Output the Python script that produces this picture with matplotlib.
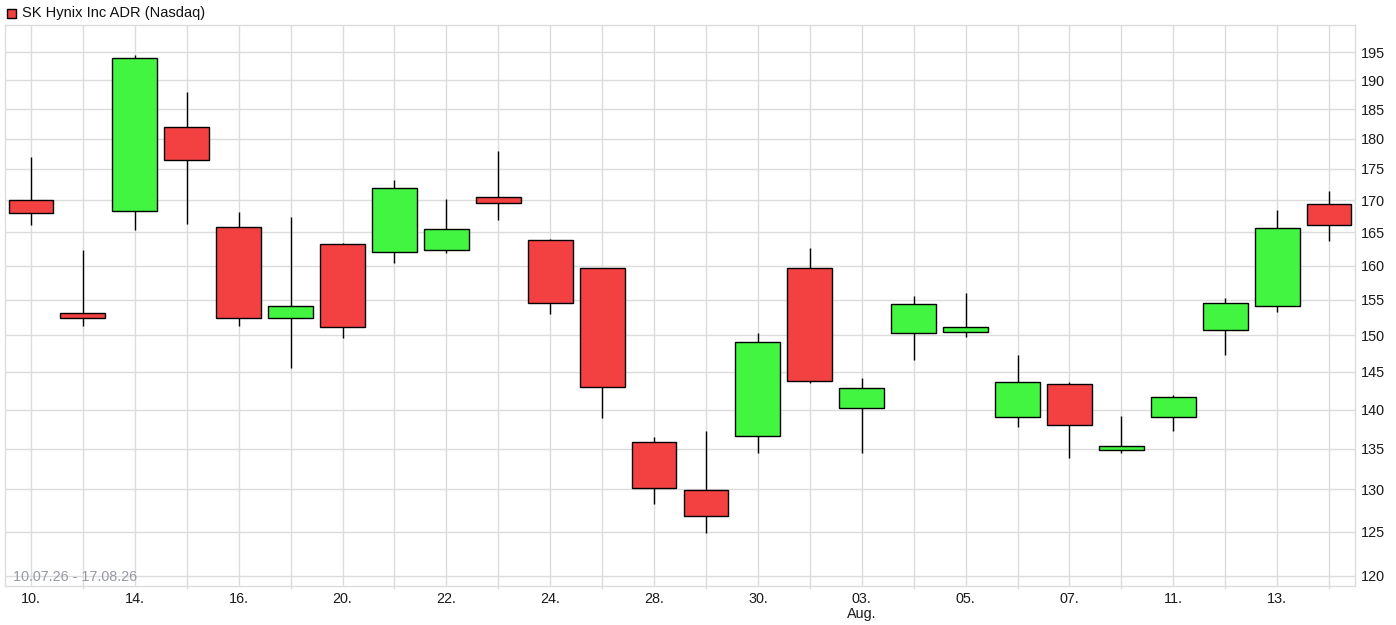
import matplotlib
matplotlib.use("Agg")
import matplotlib.pyplot as plt
from matplotlib.ticker import FixedLocator, NullLocator, FixedFormatter
from matplotlib.patches import Rectangle

plt.rcParams['font.family'] = ['Liberation Sans', 'DejaVu Sans']

days = ["10.", "13.", "14.", "15.", "16.", "17.", "20.", "21.", "22.", "23.",
        "24.", "27.", "28.", "29.", "30.", "31.", "03.\nAug.", "04.", "05.", "06.",
        "07.", "10.", "11.", "12.", "13.", "14."]
opens  = [170.0, 153.1, 168.3, 181.9, 165.9, 152.4, 163.3, 162.1, 162.4, 170.5,
          163.9, 159.6, 135.9, 129.9, 136.6, 159.7, 140.2, 150.3, 150.5, 139.0,
          143.3, 134.9, 139.0, 150.7, 154.1, 169.4]
highs  = [177.0, 162.3, 194.5, 188.0, 168.2, 167.4, 163.4, 173.2, 170.2, 177.9,
          164.0, 159.7, 136.5, 137.2, 150.3, 162.6, 144.2, 155.6, 156.0, 147.3,
          143.6, 139.2, 141.9, 155.3, 168.5, 171.5]
lows   = [166.1, 151.3, 165.4, 166.3, 151.3, 145.5, 149.6, 160.4, 161.9, 166.9,
          153.0, 138.9, 128.3, 124.9, 134.5, 143.5, 134.5, 146.6, 149.8, 137.7,
          133.8, 134.5, 137.3, 147.3, 153.3, 163.7]
closes = [168.0, 152.4, 193.9, 176.4, 152.4, 154.1, 151.2, 171.9, 165.5, 169.5,
          154.6, 143.0, 130.2, 126.8, 149.0, 143.7, 142.8, 154.4, 151.1, 143.6,
          138.0, 135.3, 141.7, 154.5, 165.6, 166.2]
yticks = list(range(120, 200, 5))
title = "SK Hynix Inc ADR (Nasdaq)"
range_text = "10.07.26 - 17.08.26"

RED = "#f34141"
GREEN = "#41f541"
GRID = "#dcdcdc"

W, H = 1396, 625
fig = plt.figure(figsize=(W / 100, H / 100), dpi=100)
ax = fig.add_axes([5 / W, 1 - 586 / H, (1355 - 5) / W, (586 - 25) / H])

n = len(opens)
xs = list(range(n))
ax.vlines(xs, lows, highs, color="black", linewidth=1.0, zorder=2)
bottoms = [min(o, c) for o, c in zip(opens, closes)]
heights = [abs(c - o) for o, c in zip(opens, closes)]
colors = [GREEN if c >= o else RED for o, c in zip(opens, closes)]
ax.bar(xs, heights, bottom=bottoms, width=0.865, color=colors,
       edgecolor="black", linewidth=1.0, zorder=3)

ax.set_yscale("log")
ax.set_ylim(118.86, 200.0)
ax.set_xlim(-0.5, n - 0.5)

ax.yaxis.set_major_locator(FixedLocator(yticks))
ax.yaxis.set_major_formatter(FixedFormatter([str(v) for v in yticks]))
ax.yaxis.set_minor_locator(NullLocator())
ax.yaxis.tick_right()
ax.tick_params(axis="y", which="both", length=0, pad=4, labelsize=10.4,
               labelcolor="#1a1a1a")

major_x = xs[::2]
minor_x = xs[1::2]
ax.xaxis.set_major_locator(FixedLocator(major_x))
ax.xaxis.set_major_formatter(FixedFormatter([days[i] for i in major_x]))
ax.xaxis.set_minor_locator(FixedLocator(minor_x))
ax.tick_params(axis="x", which="major", length=0, pad=4, labelsize=10.4,
               labelcolor="#1a1a1a")
ax.tick_params(axis="x", which="minor", length=2, color=GRID, width=1)
for lbl in ax.get_xticklabels():
    lbl.set_linespacing(1.15)

ax.grid(True, which="both", axis="x", color=GRID, linewidth=1.0, zorder=0)
ax.grid(True, which="major", axis="y", color=GRID, linewidth=1.0, zorder=0)
ax.set_axisbelow(True)
for sp in ax.spines.values():
    sp.set_color(GRID)
    sp.set_linewidth(1.0)

ax.text(8 / 1350, 5.3 / 561, range_text, transform=ax.transAxes, ha="left",
        va="baseline", fontsize=10.4, color="#969aa2", zorder=4)

fig.patches.append(Rectangle((7 / W, 1 - 17.5 / H), 9 / W, 9 / H,
                             transform=fig.transFigure, facecolor=RED,
                             edgecolor="black", linewidth=1.0))
fig.text(22 / W, 1 - 13.5 / H, title, ha="left", va="center", fontsize=10.5,
         color="#111111")

fig.savefig("out.png", dpi=100, facecolor="white")
